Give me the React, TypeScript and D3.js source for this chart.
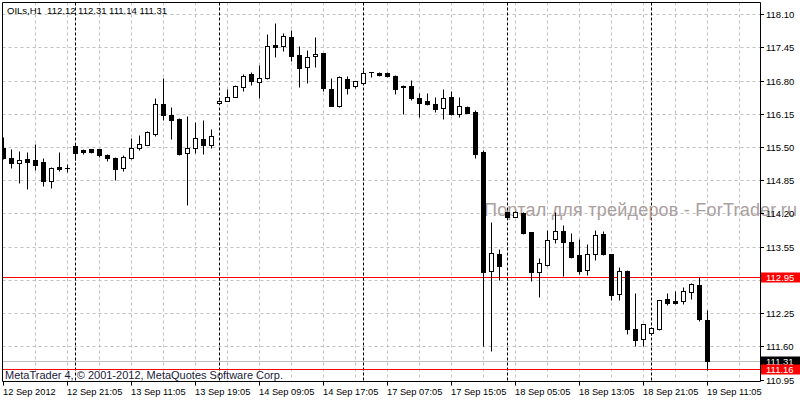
import React from "react";
import * as d3 from "d3";

const opens = [
  115.48, 115.28, 115.18, 115.26, 115.24, 115.2, 114.83, 115.11, 115.1, 115.53,
  115.45, 115.46, 115.46, 115.34, 115.28, 115.1, 115.28, 115.49, 115.55, 115.75,
  116.35, 116.13, 116.05, 115.39, 115.49, 115.65, 115.55, 116.37, 116.41, 116.49,
  116.67, 116.93, 116.77, 116.86, 117.5, 117.47, 117.65, 117.3, 117.06, 117.28,
  117.34, 116.63, 116.31, 116.84, 116.69, 116.75, 116.97, 116.95, 116.95, 116.89,
  116.7, 116.69, 116.47, 116.4, 116.34, 116.27, 116.48, 116.15, 116.28, 116.19,
  115.41, 113.07, 113.4, 114.23, 114.14, 114.2, 113.83, 113.06, 113.2, 113.71,
  113.85, 113.65, 113.38, 113.1, 113.41, 113.79, 113.4, 112.63, 113.07, 111.93,
  111.74, 111.86, 111.93, 112.52, 112.48, 112.49, 112.67, 112.8, 112.12,
];
const highs = [
  115.69, 115.46, 115.42, 115.41, 115.56, 115.28, 115.11, 115.4, 115.16, 115.56,
  115.46, 115.47, 115.47, 115.37, 115.3, 115.34, 115.68, 115.73, 115.81, 116.46,
  116.85, 116.28, 116.06, 116.11, 115.99, 116.03, 115.85, 116.42, 116.63, 116.71,
  116.94, 116.97, 117.1, 117.71, 117.93, 117.73, 117.79, 117.48, 117.4, 117.65,
  117.35, 116.86, 116.9, 116.9, 116.8, 117.01, 116.98, 116.97, 116.97, 116.91,
  116.71, 116.81, 116.55, 116.56, 116.48, 116.63, 116.59, 116.48, 116.3, 116.22,
  115.44, 114.03, 113.5, 114.25, 114.24, 114.23, 113.83, 113.33, 113.87, 114.22,
  113.97, 113.81, 113.71, 113.61, 113.87, 113.86, 113.41, 113.15, 113.1, 112.65,
  112.03, 111.97, 112.51, 112.64, 112.69, 112.76, 112.84, 112.95, 112.31,
];
const lows = [
  115.27, 115.09, 114.8, 114.67, 115.05, 114.73, 114.7, 115.03, 115.01, 115.24,
  115.37, 115.39, 115.31, 115.23, 114.85, 115.03, 115.26, 115.44, 115.54, 115.71,
  116.03, 115.65, 115.34, 114.37, 115.39, 115.36, 115.48, 116.36, 116.41, 116.48,
  116.6, 116.71, 116.47, 116.83, 117.27, 117.39, 117.19, 116.68, 116.75, 117.07,
  116.6, 116.31, 116.29, 116.54, 116.65, 116.73, 116.88, 116.9, 116.88, 116.54,
  116.15, 116.42, 116.09, 116.32, 116.18, 116.05, 116.13, 116.08, 116.16, 115.29,
  111.6, 111.5, 112.89, 114.12, 114.13, 113.79, 112.88, 112.56, 113.18, 113.63,
  112.97, 113.32, 113.02, 112.99, 113.28, 113.38, 112.5, 112.51, 111.85, 111.6,
  111.6, 111.83, 111.91, 112.4, 112.43, 112.43, 112.53, 112.09, 111.14,
];
const closes = [
  115.29, 115.19, 115.24, 115.21, 115.15, 114.84, 115.09, 115.07, 115.1, 115.39,
  115.41, 115.41, 115.35, 115.29, 115.07, 115.3, 115.49, 115.57, 115.79, 116.35,
  116.13, 116.03, 115.36, 115.49, 115.67, 115.54, 115.72, 116.41, 116.49, 116.69,
  116.9, 116.79, 116.86, 117.47, 117.45, 117.67, 117.29, 117.05, 117.26, 117.33,
  116.66, 116.31, 116.88, 116.66, 116.79, 116.96, 116.98, 116.92, 116.9, 116.64,
  116.67, 116.46, 116.37, 116.34, 116.25, 116.46, 116.15, 116.3, 116.17, 115.36,
  113.05, 113.43, 113.17, 114.13, 114.22, 113.82, 113.05, 113.24, 113.69, 113.86,
  113.64, 113.35, 113.07, 113.4, 113.78, 113.41, 112.6, 113.07, 111.94, 111.73,
  112.03, 111.96, 112.51, 112.45, 112.45, 112.69, 112.82, 112.13, 111.31,
];

const timeLabelBars = [0, 8, 16, 24, 32, 40, 48, 56, 64, 72, 80, 88];
const timeLabelTexts = [
  "12 Sep 2012", "12 Sep 21:05", "13 Sep 11:05", "13 Sep 19:05",
  "14 Sep 09:05", "14 Sep 17:05", "17 Sep 07:05", "17 Sep 15:05",
  "18 Sep 05:05", "18 Sep 13:05", "18 Sep 21:05", "19 Sep 11:05",
];
const separatorBars = [9, 27, 45, 63, 81];
const gridBars = d3.range(4, 96, 4);
const gridPrices = [118.1, 117.45, 116.8, 116.15, 115.5, 114.85, 114.2, 113.55, 112.9, 112.25, 111.6];
const axisPrices = [118.1, 117.45, 116.8, 116.15, 115.5, 114.85, 114.2, 113.55, 112.25, 111.6, 110.95];
const headerText = "OILs,H1  112.12 112.31 111.14 111.31";
const copyrightText = "MetaTrader 4, \u00a9 2001-2012, MetaQuotes Software Corp.";
const watermarkText = "Портал для трейдеров - ForTrader.ru";
const redLevels = [112.95, 111.16];
const bidLevel = 111.31;

const FONT = "Tahoma, 'Liberation Sans', Arial, sans-serif";

export default function App() {
  const L = 2.5, R = 760.5, T = 2.5, B = 381.5;
  const x = d3.scaleLinear().domain([0, 1]).range([3, 11]);
  const y = d3.scaleLinear().domain([110.95, 118.1]).range([379.5, 14.3]);
  const py = (p: number) => Math.round(y(p)) + 0.5;
  const px = (i: number) => Math.round(x(i)) + 0.5;

  return (
    <svg
      width={800}
      height={400}
      style={{ position: "absolute", left: 0, top: 0, display: "block" }}
      fontFamily={FONT}
    >
      <defs>
        <clipPath id="plot">
          <rect x={3} y={3} width={757} height={378} />
        </clipPath>
      </defs>
      <rect x={0} y={0} width={800} height={400} fill="#ffffff" />

      <g clipPath="url(#plot)">
        {gridPrices.map((p) => (
          <line key={"gh" + p} x1={L} x2={R} y1={py(p)} y2={py(p)} stroke="#c0c0c0" strokeDasharray="3,3" />
        ))}
        {gridBars.map((b) => (
          <line key={"gv" + b} x1={px(b)} x2={px(b)} y1={T} y2={B} stroke="#c0c0c0" strokeDasharray="3,3" />
        ))}
        {separatorBars.map((b) => (
          <line key={"sep" + b} x1={px(b)} x2={px(b)} y1={T} y2={B} stroke="#000" strokeDasharray="3,2" />
        ))}
        <line x1={L} x2={R} y1={py(bidLevel)} y2={py(bidLevel)} stroke="#c0c0c0" />
        {redLevels.map((p) => (
          <line key={"rl" + p} x1={L} x2={R} y1={py(p)} y2={py(p)} stroke="#ff0000" />
        ))}
      </g>

      <text
        x={484}
        y={216}
        fontSize={18}
        fill="#aaa0a0"
        textLength={313}
        lengthAdjust="spacing"
        fontFamily="'Liberation Sans', Arial, sans-serif"
      >
        {watermarkText}
      </text>

      <g clipPath="url(#plot)">
        {opens.map((o, i) => {
          const c = closes[i];
          const cx = px(i);
          const bull = c >= o;
          const top = Math.round(y(Math.max(o, c)));
          const bot = Math.round(y(Math.min(o, c)));
          return (
            <g key={"c" + i}>
              <line x1={cx} x2={cx} y1={py(highs[i])} y2={py(lows[i])} stroke="#000" />
              {bot - top < 1 ? (
                <line x1={cx - 2.5} x2={cx + 2.5} y1={top + 0.5} y2={top + 0.5} stroke="#000" />
              ) : (
                <rect
                  x={cx - 2}
                  y={top + 0.5}
                  width={4}
                  height={bot - top}
                  fill={bull ? "#fff" : "#000"}
                  stroke="#000"
                />
              )}
            </g>
          );
        })}
      </g>

      <text x={7} y={14} fontSize={9.5} fill="#000" style={{ whiteSpace: "pre" }}>
        {headerText}
      </text>
      <text x={5} y={378.5} fontSize={11} fill="#1b1b3a">
        {copyrightText}
      </text>

      {/* frame */}
      <path d={`M${L},${B}V${T}H${R}V${B}H${L}`} fill="none" stroke="#000" />

      {/* right axis */}
      {axisPrices.map((p) => (
        <g key={"ap" + p}>
          <line x1={R} x2={764} y1={py(p)} y2={py(p)} stroke="#000" />
          <text x={766} y={py(p)} dy="0.35em" fontSize={9.5} fill="#000">
            {p.toFixed(2)}
          </text>
        </g>
      ))}

      {/* bottom axis */}
      {timeLabelBars.map((b, k) => (
        <g key={"tl" + b}>
          <line x1={px(b)} x2={px(b)} y1={B} y2={385.5} stroke="#000" />
          <text x={px(b) - 0.5} y={395} fontSize={9.3} fill="#000">
            {timeLabelTexts[k]}
          </text>
        </g>
      ))}

      {/* price boxes */}
      <rect x={761} y={py(redLevels[0]) - 5} width={39} height={10} fill="#ff0000" />
      <text x={766} y={py(redLevels[0])} dy="0.35em" fontSize={9.5} fill="#fff">
        {redLevels[0].toFixed(2)}
      </text>
      <rect x={761} y={py(bidLevel) - 5} width={39} height={10} fill="#000" />
      <text x={766} y={py(bidLevel)} dy="0.35em" fontSize={9.5} fill="#fff">
        {bidLevel.toFixed(2)}
      </text>
      <rect x={761} y={py(redLevels[1]) - 5} width={39} height={10} fill="#ff0000" />
      <text x={766} y={py(redLevels[1])} dy="0.35em" fontSize={9.5} fill="#fff">
        {redLevels[1].toFixed(2)}
      </text>
    </svg>
  );
}
